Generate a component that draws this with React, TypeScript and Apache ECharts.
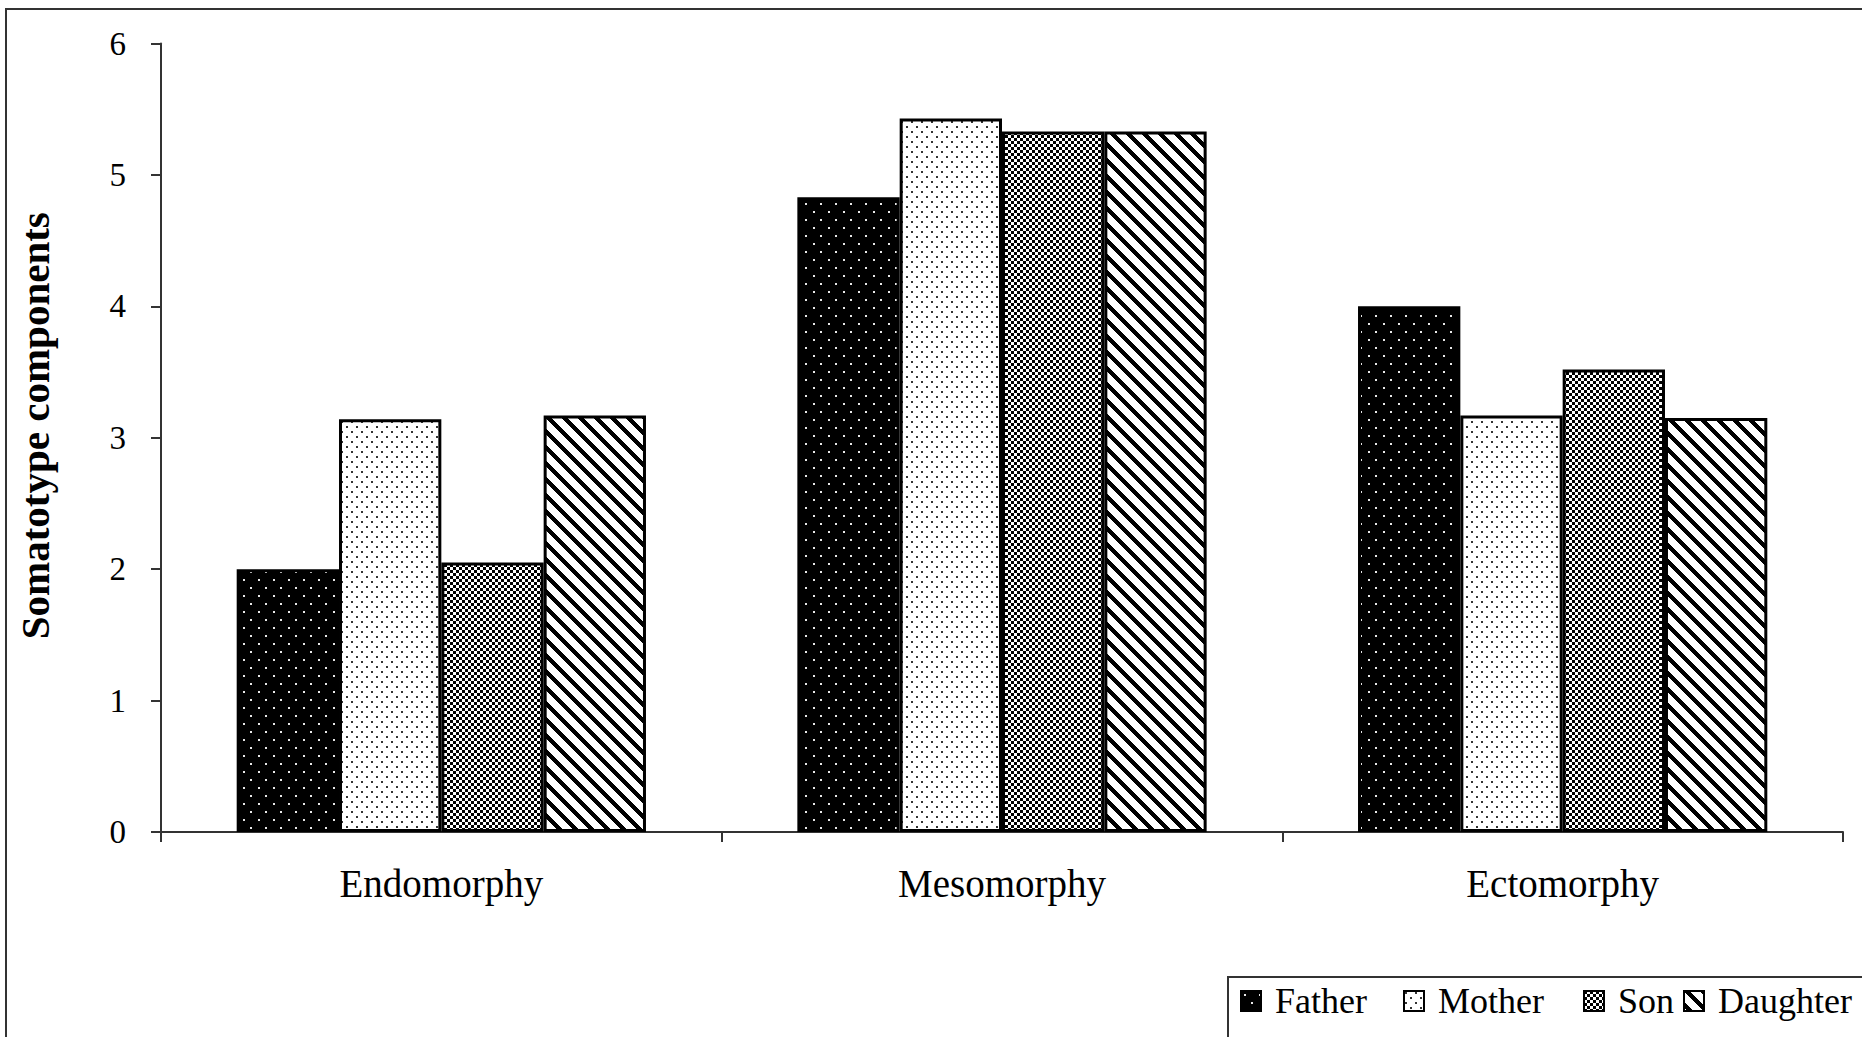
import React, { useEffect, useRef } from "react";
import * as echarts from "echarts";

const categories = ["Endomorphy", "Mesomorphy", "Ectomorphy"];
const seriesNames = ["Father", "Mother", "Son", "Daughter"];
const fatherValues = [2.0, 4.83, 4.0];
const motherValues = [3.14, 5.43, 3.17];
const sonValues = [2.05, 5.33, 3.52];
const daughterValues = [3.17, 5.33, 3.15];
const yTicks = [0, 1, 2, 3, 4, 5, 6];

const SERIF = "'Liberation Serif', 'Times New Roman', serif";

function makePattern(w: number, h: number, draw: (ctx: CanvasRenderingContext2D) => void) {
  const c = document.createElement("canvas");
  c.width = w;
  c.height = h;
  const ctx = c.getContext("2d") as CanvasRenderingContext2D;
  draw(ctx);
  return { image: c.toDataURL(), repeat: "repeat", imageWidth: w, imageHeight: h } as any;
}

function buildPatterns() {
  const father = makePattern(15, 16, (ctx) => {
    ctx.fillStyle = "#000";
    ctx.fillRect(0, 0, 15, 16);
    ctx.fillStyle = "#e8e8e8";
    ctx.fillRect(3, 3, 2, 2);
    ctx.fillRect(10, 11, 2, 2);
  });
  const mother = makePattern(10, 10, (ctx) => {
    ctx.fillStyle = "#fff";
    ctx.fillRect(0, 0, 10, 10);
    ctx.fillStyle = "#333";
    ctx.fillRect(1, 1, 2, 2);
    ctx.fillRect(6, 6, 2, 2);
  });
  const son = makePattern(6, 6, (ctx) => {
    ctx.fillStyle = "#fff";
    ctx.fillRect(0, 0, 6, 6);
    ctx.fillStyle = "#000";
    ctx.fillRect(0, 0, 3, 3);
    ctx.fillRect(3, 3, 3, 3);
  });
  const daughter = makePattern(16, 16, (ctx) => {
    ctx.fillStyle = "#fff";
    ctx.fillRect(0, 0, 16, 16);
    ctx.fillStyle = "#000";
    for (let y = 0; y < 16; y++) {
      for (let x = 0; x < 16; x++) {
        if ((((x - y) % 16) + 16) % 16 < 6) ctx.fillRect(x, y, 1, 1);
      }
    }
  });
  return [father, mother, son, daughter];
}

export default function App() {
  const ref = useRef<HTMLDivElement>(null);

  useEffect(() => {
    if (!ref.current) return;
    const chart = echarts.init(ref.current, undefined, { renderer: "svg" });
    const patterns = buildPatterns();
    const values = [fatherValues, motherValues, sonValues, daughterValues];
    const legendLefts = [1240, 1403, 1583, 1683];

    const option: any = {
      animation: false,
      backgroundColor: "#fff",
      grid: { left: 161, right: 19, top: 43.5, bottom: 205, containLabel: false },
      xAxis: {
        type: "category",
        data: categories,
        axisLine: { show: true, lineStyle: { color: "#333", width: 2 } },
        axisTick: { show: true, length: 10, lineStyle: { color: "#333", width: 2 } },
        axisLabel: { color: "#000", fontFamily: SERIF, fontSize: 39, margin: 32 },
      },
      yAxis: {
        type: "value",
        min: yTicks[0],
        max: yTicks[yTicks.length - 1],
        interval: 1,
        name: "Somatotype components",
        nameLocation: "middle",
        nameGap: 106,
        nameTextStyle: {
          color: "#000",
          fontFamily: SERIF,
          fontSize: 41,
          fontWeight: "bold",
          padding: [0, 0, 0, 24],
        },
        axisLine: { show: true, lineStyle: { color: "#333", width: 2 } },
        axisTick: { show: true, length: 10, lineStyle: { color: "#333", width: 2 } },
        axisLabel: { color: "#000", fontFamily: SERIF, fontSize: 33, margin: 35 },
        splitLine: { show: false },
      },
      legend: seriesNames.map((n, i) => ({
        data: [n],
        left: legendLefts[i],
        top: 983,
        padding: 0,
        icon: "rect",
        itemWidth: 20,
        itemHeight: 20,
        itemStyle: { borderColor: "#000", borderWidth: 2 },
        textStyle: { color: "#000", fontFamily: SERIF, fontSize: 36, padding: [0, 0, 0, 9] },
        z: 10,
      })),
      graphic: [
        {
          type: "rect",
          shape: { x: 6, y: 9, width: 1900, height: 1100 },
          style: { fill: "none", stroke: "#333", lineWidth: 2 },
          z: 0,
          silent: true,
        },
        {
          type: "rect",
          shape: { x: 1228, y: 977, width: 700, height: 200 },
          style: { fill: "#fff", stroke: "#333", lineWidth: 2 },
          z: 1,
          silent: true,
        },
      ],
      series: seriesNames.map((n, i) => ({
        name: n,
        type: "bar",
        data: values[i],
        barGap: "0%",
        barCategoryGap: "27%",
        itemStyle: { color: patterns[i], borderColor: "#000", borderWidth: 3 },
      })),
    };
    chart.setOption(option);
    return () => chart.dispose();
  }, []);

  return (
    <div
      ref={ref}
      style={{ position: "fixed", left: 0, top: 0, width: 1862, height: 1037, background: "#fff" }}
    />
  );
}
